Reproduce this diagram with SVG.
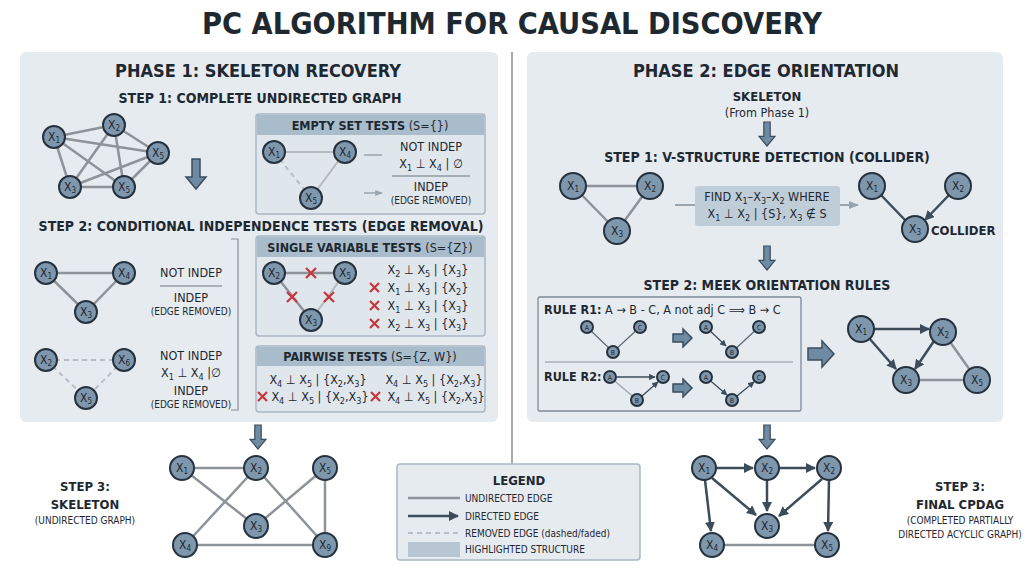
<svg xmlns="http://www.w3.org/2000/svg" width="1024" height="571" viewBox="0 0 1024 571">
<defs>
<style>
text{font-family:"DejaVu Sans Condensed","Liberation Sans",sans-serif;fill:#1e2830}
.h0{font-size:30px;font-weight:bold;text-anchor:middle}
.h1{font-size:18px;font-weight:bold;text-anchor:middle}
.h2{font-size:14px;font-weight:bold;text-anchor:middle}
.hb{font-size:13px;font-weight:bold;text-anchor:middle}
.t{font-size:12.5px;text-anchor:middle}
.ts{font-size:10px;text-anchor:middle}
.tl{font-size:12.5px}
.nl{font-size:12px;text-anchor:middle}
.sl{font-size:7px;text-anchor:middle}
.panel{fill:#e6ebf0;stroke:none}
.box{fill:#dfe6ec;stroke:#aab8c4;stroke-width:1.5}
.hdr{fill:#a8bccb}
.n circle{fill:#7f97ad;stroke:#25323e;stroke-width:2}
.e{stroke:#8d9399;stroke-width:2.5;fill:none}
.el{stroke:#b3b9be;stroke-width:2;fill:none}
.ed{stroke:#b8bec4;stroke-width:2;stroke-dasharray:5 4;fill:none}
.d{stroke:#3d4c5b;stroke-width:2.5;fill:none;marker-end:url(#ah)}
.ds{stroke:#3d4c5b;stroke-width:1.3;fill:none;marker-end:url(#ahs)}
.big{fill:#6f8aa3;stroke:#3b4d5e;stroke-width:1.5}
.rx{stroke:#c8363c;stroke-width:2.2}
</style>
<marker id="ah" viewBox="0 0 10 10" refX="9" refY="5" markerWidth="4" markerHeight="4" orient="auto"><path d="M0,0L10,5L0,10z" fill="#3d4c5b"/></marker>
<marker id="ahs" viewBox="0 0 10 10" refX="9" refY="5" markerWidth="5" markerHeight="5" orient="auto"><path d="M0,0L10,5L0,10z" fill="#3d4c5b"/></marker>
<marker id="ahg" viewBox="0 0 10 10" refX="9" refY="5" markerWidth="5" markerHeight="5" orient="auto"><path d="M0,1L10,5L0,9z" fill="#98a4ae"/></marker>
<symbol id="dn" viewBox="0 0 20 30" overflow="visible"><path d="M6,0H14V18H20L10,30L0,18H6Z"/></symbol>
</defs>
<rect width="1024" height="571" fill="#ffffff"/>
<text class="h0" x="512" y="34" textLength="620" lengthAdjust="spacingAndGlyphs">PC ALGORITHM FOR CAUSAL DISCOVERY</text>
<line x1="512" y1="52" x2="512" y2="540" stroke="#8a9096" stroke-width="1.5"/>
<rect class="panel" x="20" y="52" width="478" height="370" rx="6"/>
<rect class="panel" x="527" y="52" width="476" height="370" rx="6"/>

<!-- Phase 1 headings -->
<text class="h1" x="258" y="77">PHASE 1: SKELETON RECOVERY</text>
<text class="h2" x="260" y="103">STEP 1: COMPLETE UNDIRECTED GRAPH</text>
<text class="h2" x="261" y="231">STEP 2: CONDITIONAL INDEPENDENCE TESTS (EDGE REMOVAL)</text>

<!-- Empty set box -->
<g id="empty-set-tests">
<rect class="box" x="256" y="114" width="229" height="100" rx="3"/>
<rect class="hdr" x="257" y="115" width="227" height="20"/>
<text class="t" x="370" y="130"><tspan font-weight="bold">EMPTY SET TESTS</tspan> (S={})</text>
<text class="t" x="431" y="151">NOT INDEP</text>
<text class="t" x="431" y="168">X<tspan font-size="9" dy="3">1</tspan><tspan dy="-3"> ⊥ X</tspan><tspan font-size="9" dy="3">4</tspan><tspan dy="-3"> | ∅</tspan></text>
<line x1="392" y1="176" x2="470" y2="176" stroke="#6b7680"/>
<text class="t" x="431" y="191">INDEP</text>
<text class="ts" x="431" y="204">(EDGE REMOVED)</text>
</g>
<g id="single-variable-tests">
<rect class="box" x="256" y="236" width="229" height="100" rx="3"/>
<rect class="hdr" x="257" y="237" width="227" height="20"/>
<text class="t" x="370" y="252"><tspan font-weight="bold">SINGLE VARIABLE TESTS</tspan> (S={Z})</text>
<text class="t" x="428" y="274">X<tspan font-size="9" dy="3">2</tspan><tspan dy="-3"> ⊥ X</tspan><tspan font-size="9" dy="3">5</tspan><tspan dy="-3"> | {X</tspan><tspan font-size="9" dy="3">3</tspan><tspan dy="-3">}</tspan></text>
<text class="t" x="428" y="292">X<tspan font-size="9" dy="3">1</tspan><tspan dy="-3"> ⊥ X</tspan><tspan font-size="9" dy="3">3</tspan><tspan dy="-3"> | {X</tspan><tspan font-size="9" dy="3">2</tspan><tspan dy="-3">}</tspan></text>
<text class="t" x="428" y="310">X<tspan font-size="9" dy="3">1</tspan><tspan dy="-3"> ⊥ X</tspan><tspan font-size="9" dy="3">3</tspan><tspan dy="-3"> | {X</tspan><tspan font-size="9" dy="3">3</tspan><tspan dy="-3">}</tspan></text>
<text class="t" x="428" y="328">X<tspan font-size="9" dy="3">2</tspan><tspan dy="-3"> ⊥ X</tspan><tspan font-size="9" dy="3">3</tspan><tspan dy="-3"> | {X</tspan><tspan font-size="9" dy="3">3</tspan><tspan dy="-3">}</tspan></text>
</g>
<g id="pairwise-tests">
<rect class="box" x="256" y="346" width="229" height="66" rx="3"/>
<rect class="hdr" x="257" y="347" width="227" height="19"/>
<text class="t" x="370" y="361"><tspan font-weight="bold">PAIRWISE TESTS</tspan> (S={Z, W})</text>
<text class="t" x="318" y="384">X<tspan font-size="9" dy="3">4</tspan><tspan dy="-3"> ⊥ X</tspan><tspan font-size="9" dy="3">5</tspan><tspan dy="-3"> | {X</tspan><tspan font-size="9" dy="3">2</tspan><tspan dy="-3">,X</tspan><tspan font-size="9" dy="3">3</tspan><tspan dy="-3">}</tspan></text>
<text class="t" x="434" y="384">X<tspan font-size="9" dy="3">4</tspan><tspan dy="-3"> ⊥ X</tspan><tspan font-size="9" dy="3">5</tspan><tspan dy="-3"> | {X</tspan><tspan font-size="9" dy="3">2</tspan><tspan dy="-3">,X</tspan><tspan font-size="9" dy="3">3</tspan><tspan dy="-3">}</tspan></text>
<text class="t" x="320" y="401">X<tspan font-size="9" dy="3">4</tspan><tspan dy="-3"> ⊥ X</tspan><tspan font-size="9" dy="3">5</tspan><tspan dy="-3"> | {X</tspan><tspan font-size="9" dy="3">2</tspan><tspan dy="-3">,X</tspan><tspan font-size="9" dy="3">3</tspan><tspan dy="-3">}</tspan></text>
<text class="t" x="436" y="401">X<tspan font-size="9" dy="3">4</tspan><tspan dy="-3"> ⊥ X</tspan><tspan font-size="9" dy="3">5</tspan><tspan dy="-3"> | {X</tspan><tspan font-size="9" dy="3">2</tspan><tspan dy="-3">,X</tspan><tspan font-size="9" dy="3">3</tspan><tspan dy="-3">}</tspan></text>
<path class="rx" d="M258,392l9,9m0,-9l-9,9M371,392l9,9m0,-9l-9,9"/>
</g>
<g id="find-box">
<rect x="695" y="186" width="145" height="40" rx="3" fill="#bfcdd8"/>
<text class="t" x="767" y="201">FIND X<tspan font-size="9" dy="3">1</tspan><tspan dy="-3">–X</tspan><tspan font-size="9" dy="3">3</tspan><tspan dy="-3">–X</tspan><tspan font-size="9" dy="3">2</tspan><tspan dy="-3"> WHERE</tspan></text>
<text class="t" x="767" y="218">X<tspan font-size="9" dy="3">1</tspan><tspan dy="-3"> ⊥ X</tspan><tspan font-size="9" dy="3">2</tspan><tspan dy="-3"> | {S}, X</tspan><tspan font-size="9" dy="3">3</tspan><tspan dy="-3"> ∉ S</tspan></text>
</g>
<g id="rules-box">
<rect x="538" y="297" width="263" height="114" rx="2" fill="none" stroke="#7d8a96" stroke-width="1.3"/>
<line x1="545" y1="362" x2="793" y2="362" stroke="#8a949d"/>
<text class="tl" x="544" y="314"><tspan font-weight="bold">RULE R1:</tspan> A → B - C, A not adj C ⟹ B → C</text>
<text class="tl" x="544" y="381" font-weight="bold">RULE R2:</text>
</g>

<g id="connectors">
<path class="e" d="M54,137L114,125M54,137L158,153M54,137L70,187M54,137L124,187M114,125L158,153M114,125L70,187M114,125L124,187M158,153L70,187M158,153L124,187M70,187L124,187"/>
<path class="el" d="M274,152L345,152M345,152L311,198"/>
<path class="ed" d="M274,152L311,198"/>
<path stroke="#98a4ae" stroke-width="1.5" marker-end="url(#ahg)" d="M364,155H382M364,193H382"/>
<path class="e" d="M46,273L124,273M46,273L86,312M124,273L86,312"/>
<path class="ed" d="M46,360L124,360M46,360L86,398M124,360L86,398"/>
<path fill="none" stroke="#8a9096" stroke-width="1.2" d="M231,239H238V410H231"/>
<path class="e" d="M274,273L345,273M274,273L311,320"/>
<path class="el" d="M345,273L311,320"/>
<path class="e" d="M573,186L650,186M573,186L617,231M650,186L617,231"/>
<path stroke="#98a4ae" stroke-width="2" d="M675,205H695"/>
<path stroke="#98a4ae" stroke-width="2" marker-end="url(#ahg)" d="M840,205H858"/>
<path class="d" d="M880,194L905,220M950,194L925,220"/>
<path stroke="#5a6875" stroke-width="1.2" fill="none" d="M587,327L613,352L640,327"/>
<path class="ds" d="M706,327L726,346"/>
<path stroke="#5a6875" stroke-width="1.2" fill="none" d="M732,352L759,327"/>
<path class="ds" d="M617,377H655"/>
<path stroke="#9aa3ab" stroke-width="1.2" d="M610,377L637,400"/>
<path class="ds" d="M642,396L658,382"/>
<path class="ds" d="M706,377L727,395"/>
<path class="ds" d="M737,396L754,382"/>
<path class="d" d="M873,329H929"/>
<path class="d" d="M869,338L896,369"/>
<path class="d" d="M934,341L915,369"/>
<path class="e" d="M943,332L977,380M906,380H977"/>
<path class="e" d="M182,468L256,468M182,468L256,526M256,468L185,545M256,468L325,545M256,526L325,468M325,468L325,545M185,545L325,545"/>
<path class="d" d="M716,468H753"/>
<path class="d" d="M779,468H815"/>
<path class="d" d="M767,480V511"/>
<path class="d" d="M712,478L756,515"/>
<path class="d" d="M822,479L779,516"/>
<path class="d" d="M705,480L711,531"/>
<path class="d" d="M829,480L828,531"/>
<path class="e" d="M712,545H827"/>
</g>
<path class="rx" d="M306,268l10,10m0,-10l-10,10M287,292l10,10m0,-10l-10,10M324,292l10,10m0,-10l-10,10M370,283l9,9m0,-9l-9,9M370,301l9,9m0,-9l-9,9M370,319l9,9m0,-9l-9,9"/>

<g class="big">
<use href="#dn" x="186" y="155" width="20" height="38"/>
<use href="#dn" x="758" y="122" width="18" height="24"/>
<use href="#dn" x="758" y="246" width="18" height="24"/>
<use href="#dn" x="249" y="425" width="18" height="24"/>
<use href="#dn" x="758" y="425" width="18" height="24"/>
<path d="M673,334H683V329L692,338L683,347V342H673Z"/>
<path d="M673,384H683V379L692,388L683,397V392H673Z"/>
<path d="M808,348H822V341L834,354L822,367V360H808Z"/>
</g>

<g id="test-results">
<text class="t" x="191" y="277">NOT INDEP</text>
<line x1="160" y1="286" x2="222" y2="286" stroke="#6b7680"/>
<text class="t" x="191" y="302">INDEP</text>
<text class="ts" x="191" y="315">(EDGE REMOVED)</text>
<text class="t" x="191" y="360">NOT INDEP</text>
<text class="t" x="191" y="377">X<tspan font-size="9" dy="3">1</tspan><tspan dy="-3"> ⊥ X</tspan><tspan font-size="9" dy="3">4</tspan><tspan dy="-3"> |∅</tspan></text>
<text class="t" x="191" y="395">INDEP</text>
<text class="ts" x="191" y="408">(EDGE REMOVED)</text>
</g>

<g class="n">
<g id="p1-x1"><circle cx="54" cy="137" r="11"/><text class="nl" x="54" y="141">X<tspan font-size="8" dy="2">1</tspan></text></g>
<g id="p1-x2"><circle cx="114" cy="125" r="11"/><text class="nl" x="114" y="129">X<tspan font-size="8" dy="2">2</tspan></text></g>
<g id="p1-x5a"><circle cx="158" cy="153" r="11"/><text class="nl" x="158" y="157">X<tspan font-size="8" dy="2">5</tspan></text></g>
<g id="p1-x3"><circle cx="70" cy="187" r="11"/><text class="nl" x="70" y="191">X<tspan font-size="8" dy="2">3</tspan></text></g>
<g id="p1-x5b"><circle cx="124" cy="187" r="11"/><text class="nl" x="124" y="191">X<tspan font-size="8" dy="2">5</tspan></text></g>

<g id="es-x1"><circle cx="274" cy="152" r="11"/><text class="nl" x="274" y="156">X<tspan font-size="8" dy="2">1</tspan></text></g>
<g id="es-x4"><circle cx="345" cy="152" r="11"/><text class="nl" x="345" y="156">X<tspan font-size="8" dy="2">4</tspan></text></g>
<g id="es-x5"><circle cx="311" cy="198" r="11"/><text class="nl" x="311" y="202">X<tspan font-size="8" dy="2">5</tspan></text></g>

<g id="s2-x1"><circle cx="46" cy="273" r="11"/><text class="nl" x="46" y="277">X<tspan font-size="8" dy="2">1</tspan></text></g>
<g id="s2-x4"><circle cx="124" cy="273" r="11"/><text class="nl" x="124" y="277">X<tspan font-size="8" dy="2">4</tspan></text></g>
<g id="s2-x3"><circle cx="86" cy="312" r="11"/><text class="nl" x="86" y="316">X<tspan font-size="8" dy="2">3</tspan></text></g>
<g id="s2-x2"><circle cx="46" cy="360" r="11"/><text class="nl" x="46" y="364">X<tspan font-size="8" dy="2">2</tspan></text></g>
<g id="s2-x6"><circle cx="124" cy="360" r="11"/><text class="nl" x="124" y="364">X<tspan font-size="8" dy="2">6</tspan></text></g>
<g id="s2-x5"><circle cx="86" cy="398" r="11"/><text class="nl" x="86" y="402">X<tspan font-size="8" dy="2">5</tspan></text></g>

<g id="sv-x2"><circle cx="274" cy="273" r="11"/><text class="nl" x="274" y="277">X<tspan font-size="8" dy="2">2</tspan></text></g>
<g id="sv-x5"><circle cx="345" cy="273" r="11"/><text class="nl" x="345" y="277">X<tspan font-size="8" dy="2">5</tspan></text></g>
<g id="sv-x3"><circle cx="311" cy="320" r="11"/><text class="nl" x="311" y="324">X<tspan font-size="8" dy="2">3</tspan></text></g>

<g id="v-x1"><circle cx="573" cy="186" r="13"/><text class="nl" x="573" y="190">X<tspan font-size="8" dy="2">1</tspan></text></g>
<g id="v-x2"><circle cx="650" cy="186" r="13"/><text class="nl" x="650" y="190">X<tspan font-size="8" dy="2">2</tspan></text></g>
<g id="v-x3"><circle cx="617" cy="231" r="13"/><text class="nl" x="617" y="235">X<tspan font-size="8" dy="2">3</tspan></text></g>
<g id="c-x1"><circle cx="872" cy="186" r="13"/><text class="nl" x="872" y="190">X<tspan font-size="8" dy="2">1</tspan></text></g>
<g id="c-x2"><circle cx="958" cy="186" r="13"/><text class="nl" x="958" y="190">X<tspan font-size="8" dy="2">2</tspan></text></g>
<g id="c-x3"><circle cx="915" cy="229" r="13"/><text class="nl" x="915" y="233">X<tspan font-size="8" dy="2">3</tspan></text></g>

<g id="r1a-a"><circle cx="587" cy="327" r="6" stroke-width="1.2"/><text class="sl" x="587" y="329.5">A</text></g>
<g id="r1a-c"><circle cx="640" cy="327" r="6" stroke-width="1.2"/><text class="sl" x="640" y="329.5">C</text></g>
<g id="r1a-b"><circle cx="613" cy="352" r="6" stroke-width="1.2"/><text class="sl" x="613" y="354.5">B</text></g>
<g id="r1b-a"><circle cx="706" cy="327" r="6" stroke-width="1.2"/><text class="sl" x="706" y="329.5">A</text></g>
<g id="r1b-c"><circle cx="759" cy="327" r="6" stroke-width="1.2"/><text class="sl" x="759" y="329.5">C</text></g>
<g id="r1b-b"><circle cx="732" cy="352" r="6" stroke-width="1.2"/><text class="sl" x="732" y="354.5">B</text></g>
<g id="r2a-a"><circle cx="610" cy="377" r="6" stroke-width="1.2"/><text class="sl" x="610" y="379.5">A</text></g>
<g id="r2a-c"><circle cx="663" cy="377" r="6" stroke-width="1.2"/><text class="sl" x="663" y="379.5">C</text></g>
<g id="r2a-b"><circle cx="637" cy="400" r="6" stroke-width="1.2"/><text class="sl" x="637" y="402.5">B</text></g>
<g id="r2b-a"><circle cx="706" cy="377" r="6" stroke-width="1.2"/><text class="sl" x="706" y="379.5">A</text></g>
<g id="r2b-c"><circle cx="759" cy="377" r="6" stroke-width="1.2"/><text class="sl" x="759" y="379.5">C</text></g>
<g id="r2b-b"><circle cx="732" cy="400" r="6" stroke-width="1.2"/><text class="sl" x="732" y="402.5">B</text></g>

<g id="m-x1"><circle cx="861" cy="329" r="13"/><text class="nl" x="861" y="333">X<tspan font-size="8" dy="2">1</tspan></text></g>
<g id="m-x2"><circle cx="943" cy="332" r="13"/><text class="nl" x="943" y="336">X<tspan font-size="8" dy="2">2</tspan></text></g>
<g id="m-x3"><circle cx="906" cy="380" r="13"/><text class="nl" x="906" y="384">X<tspan font-size="8" dy="2">3</tspan></text></g>
<g id="m-x5"><circle cx="977" cy="380" r="13"/><text class="nl" x="977" y="384">X<tspan font-size="8" dy="2">5</tspan></text></g>

<g id="sk-x1"><circle cx="182" cy="468" r="12"/><text class="nl" x="182" y="472">X<tspan font-size="8" dy="2">1</tspan></text></g>
<g id="sk-x2"><circle cx="256" cy="468" r="12"/><text class="nl" x="256" y="472">X<tspan font-size="8" dy="2">2</tspan></text></g>
<g id="sk-x5"><circle cx="325" cy="468" r="12"/><text class="nl" x="325" y="472">X<tspan font-size="8" dy="2">5</tspan></text></g>
<g id="sk-x3"><circle cx="256" cy="526" r="12"/><text class="nl" x="256" y="530">X<tspan font-size="8" dy="2">3</tspan></text></g>
<g id="sk-x4"><circle cx="185" cy="545" r="12"/><text class="nl" x="185" y="549">X<tspan font-size="8" dy="2">4</tspan></text></g>
<g id="sk-x9"><circle cx="325" cy="545" r="12"/><text class="nl" x="325" y="549">X<tspan font-size="8" dy="2">9</tspan></text></g>

<g id="cp-x1"><circle cx="704" cy="468" r="12"/><text class="nl" x="704" y="472">X<tspan font-size="8" dy="2">1</tspan></text></g>
<g id="cp-x2"><circle cx="767" cy="468" r="12"/><text class="nl" x="767" y="472">X<tspan font-size="8" dy="2">2</tspan></text></g>
<g id="cp-x2b"><circle cx="829" cy="468" r="12"/><text class="nl" x="829" y="472">X<tspan font-size="8" dy="2">2</tspan></text></g>
<g id="cp-x3"><circle cx="767" cy="526" r="12"/><text class="nl" x="767" y="530">X<tspan font-size="8" dy="2">3</tspan></text></g>
<g id="cp-x4"><circle cx="712" cy="545" r="12"/><text class="nl" x="712" y="549">X<tspan font-size="8" dy="2">4</tspan></text></g>
<g id="cp-x5"><circle cx="827" cy="545" r="12"/><text class="nl" x="827" y="549">X<tspan font-size="8" dy="2">5</tspan></text></g>
</g>

<text class="h1" x="766" y="77">PHASE 2: EDGE ORIENTATION</text>
<text class="hb" x="767" y="101">SKELETON</text>
<text class="t" x="767" y="117">(From Phase 1)</text>
<text class="h2" x="767" y="162">STEP 1: V-STRUCTURE DETECTION (COLLIDER)</text>
<text class="hb" x="931" y="235" style="text-anchor:start">COLLIDER</text>
<text class="h2" x="767" y="290">STEP 2: MEEK ORIENTATION RULES</text>

<text class="hb" x="85" y="491">STEP 3:</text>
<text class="hb" x="85" y="509">SKELETON</text>
<text class="ts" x="85" y="524">(UNDIRECTED GRAPH)</text>
<text class="hb" x="960" y="491">STEP 3:</text>
<text class="hb" x="960" y="509">FINAL CPDAG</text>
<text class="ts" x="960" y="524">(COMPLETED PARTIALLY</text>
<text class="ts" x="960" y="538">DIRECTED ACYCLIC GRAPH)</text>

<g id="legend">
<rect x="397" y="464" width="243" height="96" rx="3" fill="#e6ebf0" stroke="#aab8c4" stroke-width="1.5"/>
<text class="hb" x="519" y="485">LEGEND</text>
<line x1="408" y1="498" x2="460" y2="498" stroke="#8d9399" stroke-width="2.5"/>
<line x1="408" y1="516" x2="458" y2="516" class="d"/>
<line x1="408" y1="533" x2="460" y2="533" class="ed"/>
<rect x="408" y="542" width="52" height="15" fill="#b7c6d2"/>
<text class="ts" x="465" y="502" style="text-anchor:start">UNDIRECTED EDGE</text>
<text class="ts" x="465" y="520" style="text-anchor:start">DIRECTED EDGE</text>
<text class="ts" x="465" y="537" style="text-anchor:start">REMOVED EDGE (dashed/faded)</text>
<text class="ts" x="465" y="553" style="text-anchor:start">HIGHLIGHTED STRUCTURE</text>
</g>
</svg>
